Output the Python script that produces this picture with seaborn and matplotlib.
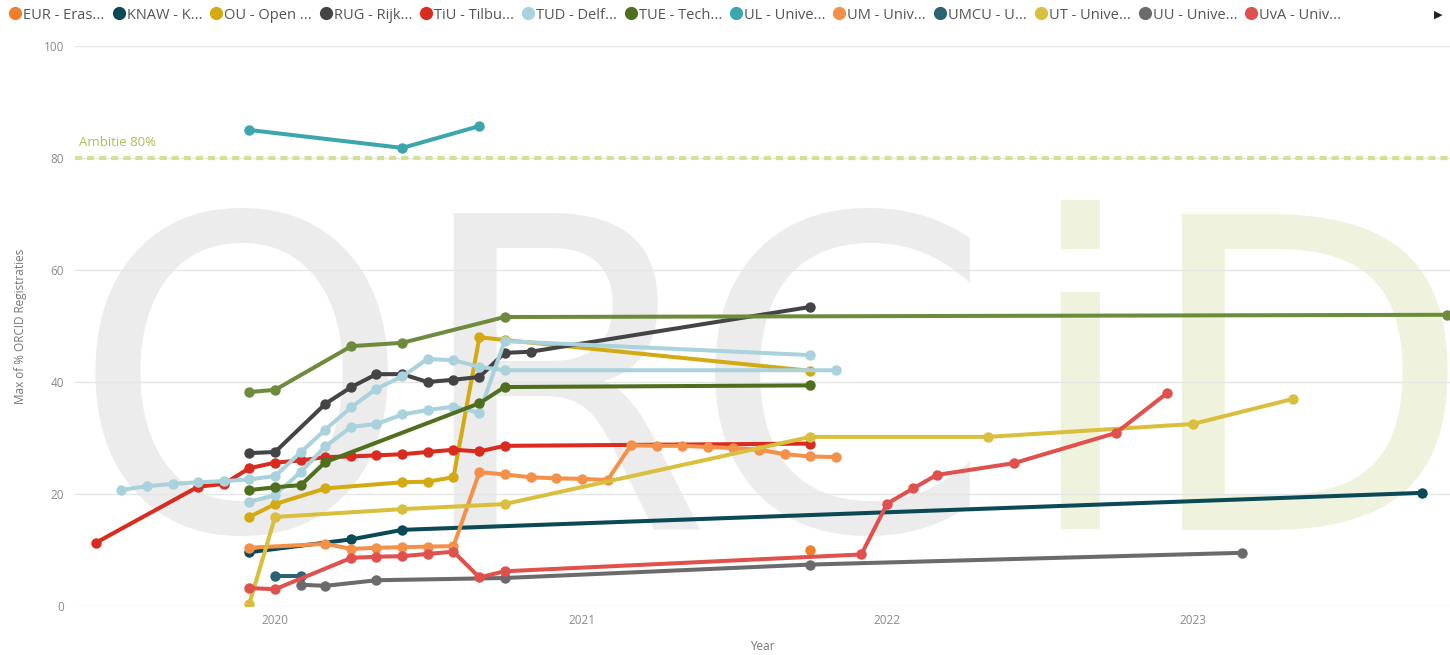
import pandas as pd
import seaborn as sns
import matplotlib.pyplot as plt
import matplotlib.dates as mdates
from matplotlib.lines import Line2D

# --- data (monthly snapshots, max % ORCID registrations) ---
eur_dates = ["2021-10"]
eur_vals = [10.0]

knaw_dates = ["2019-12", "2020-04", "2020-06", "2023-10"]
knaw_vals = [9.6, 11.9, 13.6, 20.2]

ou_dates = ["2019-12", "2020-01", "2020-03", "2020-06", "2020-07", "2020-08", "2020-09", "2020-10", "2021-10"]
ou_vals = [15.9, 18.2, 21.0, 22.1, 22.2, 23.0, 48.0, 47.5, 42.0]

rug_dates = ["2019-12", "2020-01", "2020-03", "2020-04", "2020-05", "2020-06", "2020-07", "2020-08",
             "2020-09", "2020-10", "2020-11", "2021-10"]
rug_vals = [27.3, 27.5, 36.1, 39.1, 41.4, 41.4, 40.0, 40.4, 40.9, 45.2, 45.4, 53.4]

tiu_dates = ["2019-06", "2019-10", "2019-11", "2019-12", "2020-01", "2020-02", "2020-03", "2020-04",
             "2020-05", "2020-06", "2020-07", "2020-08", "2020-09", "2020-10", "2021-10"]
tiu_vals = [11.3, 21.3, 21.8, 24.6, 25.6, 26.0, 26.6, 26.7, 26.9, 27.1, 27.5, 27.9, 27.6, 28.6, 29.0]

tud_dates = ["2019-12", "2020-01", "2020-02", "2020-03", "2020-04", "2020-05", "2020-06", "2020-07",
             "2020-08", "2020-09", "2020-10", "2021-10"]
tud_vals = [18.6, 19.8, 24.0, 28.5, 32.0, 32.5, 34.2, 35.0, 35.6, 34.5, 47.3, 44.8]

tue_dates = ["2019-12", "2020-01", "2020-02", "2020-03", "2020-09", "2020-10", "2021-10"]
tue_vals = [20.7, 21.2, 21.6, 25.7, 36.2, 39.1, 39.4]

ul_dates = ["2019-12", "2020-06", "2020-09"]
ul_vals = [85.0, 81.8, 85.7]

um_dates = ["2019-12", "2020-03", "2020-04", "2020-05", "2020-06", "2020-07", "2020-08", "2020-09",
            "2020-10", "2020-11", "2020-12", "2021-01", "2021-02", "2021-03", "2021-04", "2021-05",
            "2021-06", "2021-07", "2021-08", "2021-09", "2021-10", "2021-11"]
um_vals = [10.4, 11.1, 10.2, 10.4, 10.5, 10.6, 10.7, 23.9, 23.5, 23.0, 22.8, 22.7, 22.5, 28.7, 28.6,
           28.6, 28.4, 28.2, 27.9, 27.1, 26.7, 26.6]

umcu_dates = ["2020-01", "2020-02"]
umcu_vals = [5.4, 5.4]

ut_dates = ["2019-12", "2020-01", "2020-06", "2020-10", "2021-10", "2022-05", "2023-01", "2023-05"]
ut_vals = [0.3, 15.9, 17.3, 18.2, 30.2, 30.2, 32.5, 37.0]

uu_dates = ["2020-02", "2020-03", "2020-05", "2020-10", "2021-10", "2023-03"]
uu_vals = [3.8, 3.6, 4.6, 5.0, 7.4, 9.5]

uva_dates = ["2019-12", "2020-01", "2020-04", "2020-05", "2020-06", "2020-07", "2020-08", "2020-09",
             "2020-10", "2021-12", "2022-01", "2022-02", "2022-03", "2022-06", "2022-10", "2022-12"]
uva_vals = [3.2, 3.0, 8.6, 8.8, 8.9, 9.3, 9.7, 5.1, 6.2, 9.2, 18.3, 21.0, 23.4, 25.5, 30.9, 38.0]

# two more series whose legend entries are scrolled off (behind the arrow)
vu_dates = ["2019-07", "2019-08", "2019-09", "2019-10", "2019-11", "2019-12", "2020-01", "2020-02",
            "2020-03", "2020-04", "2020-05", "2020-06", "2020-07", "2020-08", "2020-09", "2020-10", "2021-11"]
vu_vals = [20.7, 21.4, 21.8, 22.1, 22.3, 22.6, 23.2, 27.5, 31.5, 35.5, 38.8, 41.0, 44.1, 43.9, 42.7, 42.1, 42.1]

wur_dates = ["2019-12", "2020-01", "2020-04", "2020-06", "2020-10", "2023-11"]
wur_vals = [38.2, 38.6, 46.4, 47.0, 51.6, 52.0]

names = ["EUR - Eras...", "KNAW - K...", "OU - Open ...", "RUG - Rijk...", "TiU - Tilbu...",
         "TUD - Delf...", "TUE - Tech...", "UL - Unive...", "UM - Univ...", "UMCU - U...",
         "UT - Unive...", "UU - Unive...", "UvA - Univ...", "VU - Vrije...", "WUR - Wage..."]
colors = ["#F07F2B", "#0B4957", "#D3AA12", "#444447", "#D92B1F", "#A9D2DC", "#4F6F1E",
          "#3BA6AC", "#F3914A", "#2B6373", "#DABF3E", "#6B6B6D", "#E0504C", "#A9D2DC", "#6E8B3D"]
series = [(eur_dates, eur_vals), (knaw_dates, knaw_vals), (ou_dates, ou_vals), (rug_dates, rug_vals),
          (tiu_dates, tiu_vals), (tud_dates, tud_vals), (tue_dates, tue_vals), (ul_dates, ul_vals),
          (um_dates, um_vals), (umcu_dates, umcu_vals), (ut_dates, ut_vals), (uu_dates, uu_vals),
          (uva_dates, uva_vals), (vu_dates, vu_vals), (wur_dates, wur_vals)]
n_legend = 13

frames = []
for name, (d, v) in zip(names, series):
    frames.append(pd.DataFrame({"Year": pd.to_datetime(d), "pct": v, "inst": name}))
df = pd.concat(frames, ignore_index=True)

sns.set_theme(style="white")
plt.rcParams["font.family"] = ["Open Sans", "DejaVu Sans"]

fig = plt.figure(figsize=(14.5, 6.55), dpi=100)
ax = fig.add_axes([0.0517, 0.0748, 0.9483, 0.855])
ax.patch.set_alpha(0)

# ORCiD watermark behind the plot
fig.text(0.049, 0.191, "ORC", fontsize=312, color="#ECECEC", family="DejaVu Sans",
         va="baseline", ha="left", zorder=-5)
fig.text(0.703, 0.191, "iD", fontsize=312, color="#EFF3DE", family="DejaVu Sans",
         va="baseline", ha="left", zorder=-5)

for yv in range(0, 101, 20):
    ax.axhline(yv, color="#E6E6E6", lw=1, zorder=0)

# ambition line
ax.axhline(80, color="#D2E194", lw=3, ls=(0, (1.7, 1.2)), zorder=1)
ax.text(0.003, 82.8, "Ambitie 80%", transform=ax.get_yaxis_transform(), color="#A9C155",
        fontsize=9.5, va="center", ha="left")

sns.lineplot(data=df, x="Year", y="pct", hue="inst", hue_order=names, palette=colors,
             marker="o", markersize=7.5, markeredgewidth=0, linewidth=2.9,
             estimator=None, sort=True, legend=False, ax=ax)

ax.set_xlim(pd.Timestamp("2019-05-07"), pd.Timestamp("2023-11-04"))
ax.set_ylim(0, 100)
ax.set_yticks(range(0, 101, 20))
ax.xaxis.set_major_locator(mdates.YearLocator())
ax.xaxis.set_major_formatter(mdates.DateFormatter("%Y"))
ax.tick_params(axis="both", length=0, labelsize=8.5, labelcolor="#8A8A8A")
ax.tick_params(axis="y", pad=8)
ax.tick_params(axis="x", pad=6)
for s in ax.spines.values():
    s.set_visible(False)
ax.set_xlabel("Year", fontsize=8.5, color="#777777", labelpad=9)
ax.set_ylabel("Max of % ORCID Registraties", fontsize=8.5, color="#777777", labelpad=12)

handles = [Line2D([], [], ls="none", marker="o", markersize=9.5, markeredgewidth=0, color=c)
           for c in colors[:n_legend]]
fig.legend(handles, names[:n_legend], loc="center left", bbox_to_anchor=(-0.002, 0.977),
           ncol=n_legend, frameon=False, fontsize=10.5, handlelength=0.7, handletextpad=0.2,
           columnspacing=0.6, labelcolor="#555555")
fig.text(0.995, 0.977, "\u25B6", fontsize=8, color="#222222", ha="right", va="center",
         family="DejaVu Sans")

fig.savefig("out.png", dpi=100)
